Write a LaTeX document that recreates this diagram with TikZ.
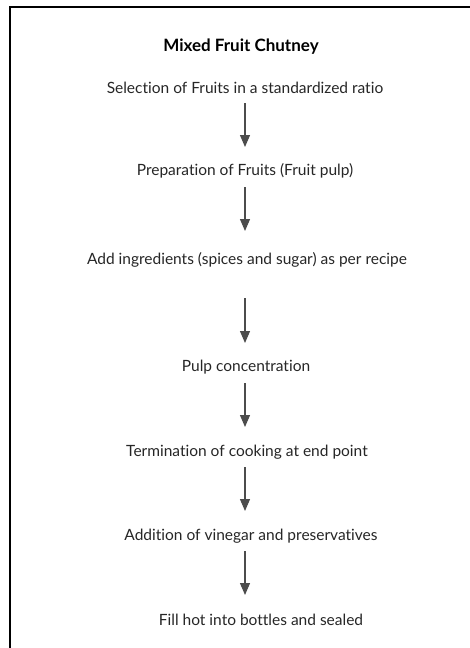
\documentclass[tikz,border=0pt]{standalone}
\usepackage{fontspec}
\setmainfont[Ligatures=NoCommon]{Lato}
\usetikzlibrary{arrows.meta}
\begin{document}
\begin{tikzpicture}[x=1pt,y=-1pt,
  stepbox/.style={inner sep=0pt,font=\fontsize{15.5}{18}\selectfont,text=black!85},
  titlebox/.style={inner sep=0pt,font=\fontsize{17}{20}\selectfont\bfseries},
  flow/.style={draw=black!70,line width=1.1pt,-{Triangle[width=10pt,length=12pt]}}]
\useasboundingbox (0,0) rectangle (469,648);
\draw[line width=2pt] (10,660) -- (10,7) -- (480,7);
\node[titlebox] (t) at (241,47) {Mixed Fruit Chutney};
\node[stepbox] (s1) at (245,88) {Selection of Fruits in a standardized ratio};
\node[stepbox] (s2) at (245,171) {Preparation of Fruits (Fruit pulp)};
\node[stepbox] (s3) at (247,260) {Add ingredients (spices and sugar) as per recipe};
\node[stepbox] (s4) at (246,367) {Pulp concentration};
\node[stepbox] (s5) at (247,452) {Termination of cooking at end point};
\node[stepbox] (s6) at (251,536) {Addition of vinegar and preservatives};
\node[stepbox] (s7) at (261,620) {Fill hot into bottles and sealed};
\coordinate (a1s) at (245,103); \coordinate (a1e) at (245,147);
\coordinate (a2s) at (245,187); \coordinate (a2e) at (245,231);
\coordinate (a3s) at (245,298); \coordinate (a3e) at (245,343);
\coordinate (a4s) at (245,383); \coordinate (a4e) at (245,427);
\coordinate (a5s) at (245,467); \coordinate (a5e) at (245,511);
\coordinate (a6s) at (245,551); \coordinate (a6e) at (245,595);
\draw[flow] (a1s) -- (a1e);
\draw[flow] (a2s) -- (a2e);
\draw[flow] (a3s) -- (a3e);
\draw[flow] (a4s) -- (a4e);
\draw[flow] (a5s) -- (a5e);
\draw[flow] (a6s) -- (a6e);
\end{tikzpicture}
\end{document}
